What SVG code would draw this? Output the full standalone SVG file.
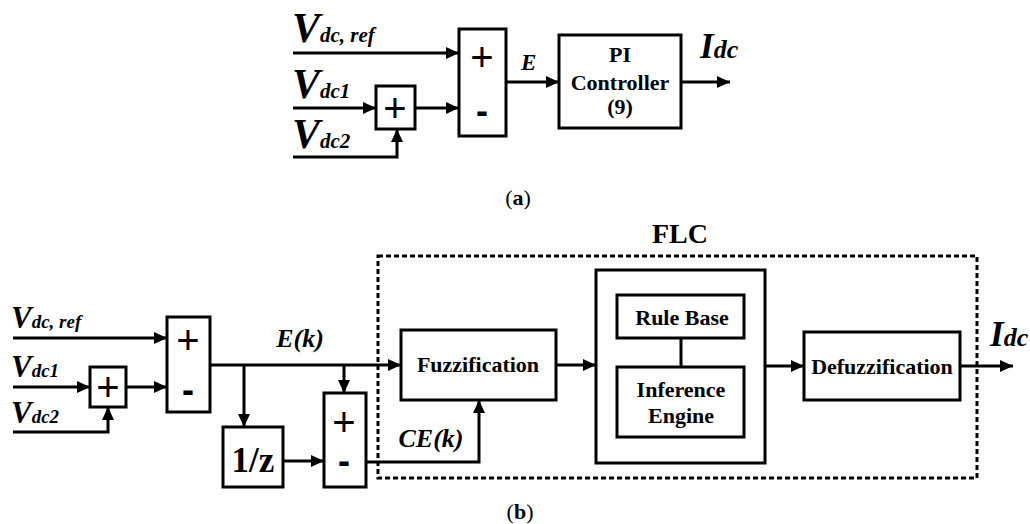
<svg xmlns="http://www.w3.org/2000/svg" width="1030" height="524" viewBox="0 0 1030 524">
<style>
.box{fill:none;stroke:#000;stroke-width:3}
.ln{fill:none;stroke:#000;stroke-width:3}
.dash{fill:none;stroke:#000;stroke-width:3;stroke-dasharray:5,3}
.lbl{font-family:'Liberation Serif','Times New Roman','DejaVu Serif',serif;font-weight:700;font-style:italic;fill:#000}
.bt{font-family:'Liberation Serif','Times New Roman','DejaVu Serif',serif;font-weight:700;fill:#000;text-anchor:middle}
.plus{font-family:'Liberation Sans',Arial,sans-serif;font-size:40px;fill:#000;text-anchor:middle}
.minus{font-family:'Liberation Sans',Arial,sans-serif;font-weight:700;font-size:36px;fill:#000;text-anchor:middle}
.cap{font-family:'Liberation Serif','Times New Roman',serif;font-size:22px;fill:#000;text-anchor:middle}
</style>
<defs>
<marker id="ah" markerUnits="userSpaceOnUse" markerWidth="14" markerHeight="14" viewBox="0 0 14 14" refX="13" refY="7" orient="auto">
<path d="M0,1 L13,7 L0,13 Z" fill="#000"/>
</marker>
</defs>
<rect width="1030" height="524" fill="#fff"/>

<!-- Part (a) -->
<g id="a-sum1">
<rect class="box" x="459" y="29" width="47" height="107"/>
<text class="plus" x="482" y="71">+</text>
<text class="minus" x="482" y="123">-</text>
</g>
<g id="a-sum0">
<rect class="box" x="376" y="86" width="39" height="43"/>
<text class="plus" x="395" y="122">+</text>
</g>
<g id="a-pi">
<rect class="box" x="559" y="35" width="122" height="93"/>
<text class="bt" x="620" y="62" font-size="22">PI</text>
<text class="bt" x="620" y="90" font-size="22">Controller</text>
<text class="bt" x="620" y="114" font-size="22">(9)</text>
</g>
<g id="a-labels">
<text class="lbl" x="292" y="42" font-size="42">V<tspan font-size="21">dc, ref</tspan></text>
<text class="lbl" x="292" y="98" font-size="42">V<tspan font-size="21">dc1</tspan></text>
<text class="lbl" x="292" y="148" font-size="42">V<tspan font-size="21">dc2</tspan></text>
<text class="lbl" x="521" y="70" font-size="23">E</text>
<text class="lbl" x="700" y="58" font-size="35">I<tspan font-size="26">dc</tspan></text>
<text class="cap" x="518" y="205">(<tspan font-weight="700">a</tspan>)</text>
</g>
<g id="a-connectors">
<path class="ln" d="M293,53 H459" marker-end="url(#ah)"/>
<path class="ln" d="M293,108 H376" marker-end="url(#ah)"/>
<path class="ln" d="M415,108 H459" marker-end="url(#ah)"/>
<path class="ln" d="M293,157 H397 V129" marker-end="url(#ah)"/>
<path class="ln" d="M506,82 H559" marker-end="url(#ah)"/>
<path class="ln" d="M681,82 H730" marker-end="url(#ah)"/>
</g>

<!-- Part (b) -->
<g id="b-flc">
<rect class="dash" x="378" y="256" width="599" height="222"/>
<text class="bt" x="680" y="243" font-size="28">FLC</text>
</g>
<g id="b-sum1">
<rect class="box" x="167" y="317" width="43" height="95"/>
<text class="plus" x="188" y="354">+</text>
<text class="minus" x="188" y="402">-</text>
</g>
<g id="b-sum0">
<rect class="box" x="90" y="367" width="36" height="40"/>
<text class="plus" x="108" y="401">+</text>
</g>
<g id="b-delay">
<rect class="box" x="223" y="427" width="60" height="60"/>
<text class="bt" x="253" y="472" font-size="35">1/z</text>
</g>
<g id="b-sum2">
<rect class="box" x="324" y="393" width="42" height="94"/>
<text class="plus" x="344" y="436">+</text>
<text class="minus" x="344" y="473">-</text>
</g>
<g id="b-fuzz">
<rect class="box" x="401" y="330" width="155" height="70"/>
<text class="bt" x="478" y="372" font-size="22">Fuzzification</text>
</g>
<g id="b-engine">
<rect class="box" x="596" y="270" width="169" height="193"/>
</g>
<g id="b-rule">
<rect class="box" x="617" y="295" width="127" height="43"/>
<text class="bt" x="682" y="325" font-size="22">Rule Base</text>
</g>
<g id="b-infer">
<rect class="box" x="617" y="367" width="127" height="70"/>
<text class="bt" x="681" y="397" font-size="22">Inference</text>
<text class="bt" x="681" y="423" font-size="22">Engine</text>
</g>
<g id="b-defuzz">
<rect class="box" x="804" y="332" width="156" height="68"/>
<text class="bt" x="882" y="374" font-size="22">Defuzzification</text>
</g>
<g id="b-labels">
<text class="lbl" x="11" y="328" font-size="31">V<tspan font-size="19">dc, ref</tspan></text>
<text class="lbl" x="11" y="377" font-size="31">V<tspan font-size="19">dc1</tspan></text>
<text class="lbl" x="11" y="423" font-size="31">V<tspan font-size="19">dc2</tspan></text>
<text class="lbl" x="300" y="347" font-size="26" text-anchor="middle">E(k)</text>
<text class="lbl" x="431" y="447" font-size="26" text-anchor="middle">CE(k)</text>
<text class="lbl" x="990" y="346" font-size="35">I<tspan font-size="26">dc</tspan></text>
<text class="cap" x="520" y="519">(<tspan font-weight="700">b</tspan>)</text>
</g>
<g id="b-connectors">
<path class="ln" d="M13,338 H167" marker-end="url(#ah)"/>
<path class="ln" d="M13,387 H90" marker-end="url(#ah)"/>
<path class="ln" d="M126,387 H167" marker-end="url(#ah)"/>
<path class="ln" d="M13,432 H108 V407" marker-end="url(#ah)"/>
<path class="ln" d="M210,365 H401" marker-end="url(#ah)"/>
<path class="ln" d="M244,365 V427" marker-end="url(#ah)"/>
<path class="ln" d="M344,365 V393" marker-end="url(#ah)"/>
<path class="ln" d="M283,461 H324" marker-end="url(#ah)"/>
<path class="ln" d="M366,462 H479 V400" marker-end="url(#ah)"/>
<path class="ln" d="M556,365 H596" marker-end="url(#ah)"/>
<path class="ln" d="M681,338 V367"/>
<path class="ln" d="M765,366 H804" marker-end="url(#ah)"/>
<path class="ln" d="M960,366 H1013" marker-end="url(#ah)"/>
</g>
</svg>
